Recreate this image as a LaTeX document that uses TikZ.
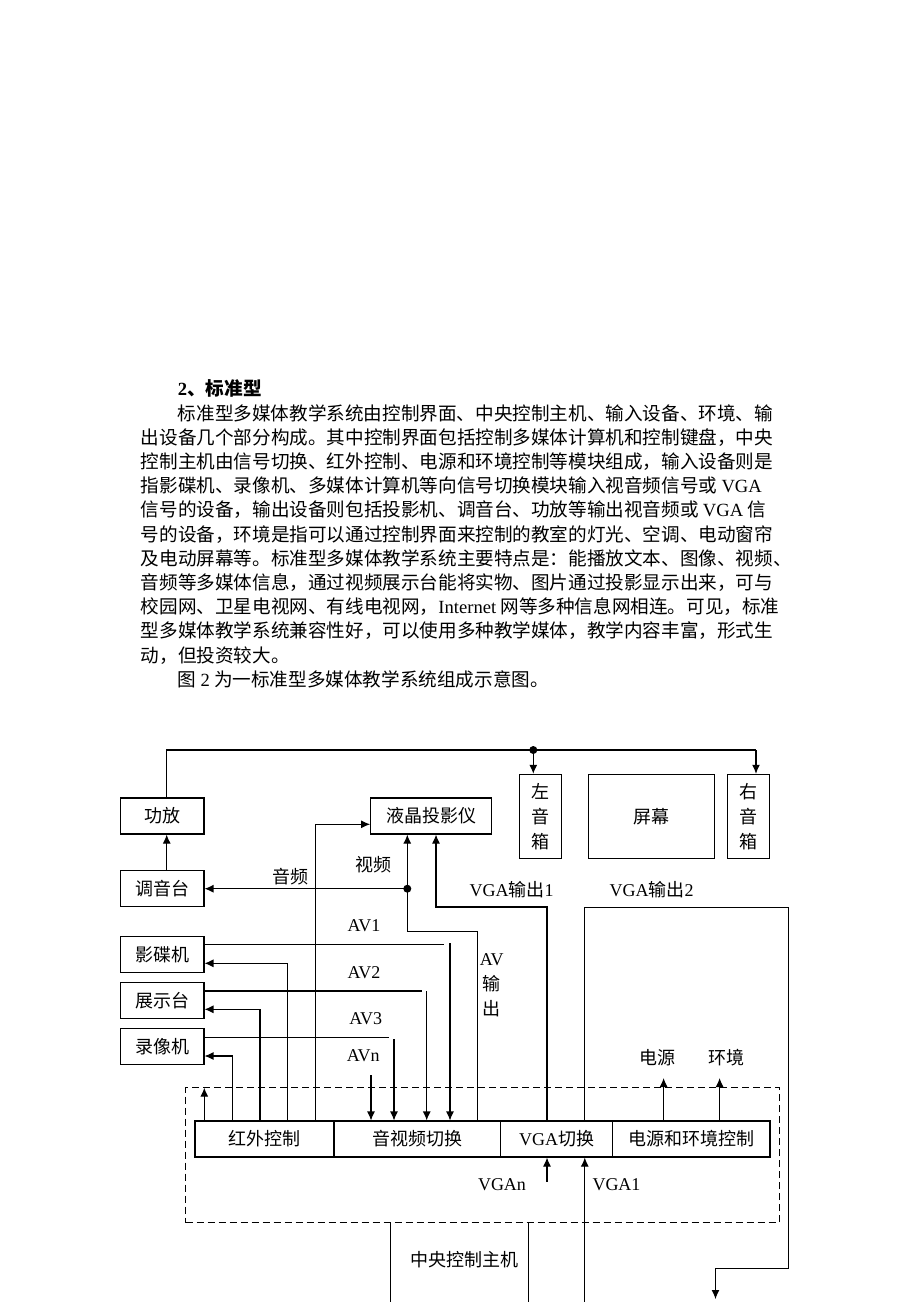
\documentclass[tikz,border=0pt]{standalone}
\usepackage{fontspec}
\setmainfont{Liberation Serif}
\newfontfamily\cjk{Noto Sans CJK SC}
\usetikzlibrary{arrows.meta,positioning,calc}
\newcommand\lat[1]{{\rmfamily #1}}

\begin{document}
\begin{tikzpicture}[x=1pt,y=-1pt,
  every node/.style={font=\cjk\fontsize{18}{25}\selectfont,inner sep=0pt,align=center},
  para/.style={anchor=base west,font=\cjk\fontsize{18.6}{24}\selectfont},
  box/.style={draw,line width=1.1pt,minimum height=36pt},
  device/.style={box,minimum width=83.3pt},
  host/.style={draw,dash pattern=on 7pt off 4pt,line width=1.1pt},
  wire/.style={line width=1.1pt},
  sig/.style={wire,-{Latex[length=9pt,width=8pt]}}]

    \fill[white] (0,0) rectangle (920,1302);
    \useasboundingbox (0,0) rectangle (920,1302);

    % text above the figure
    \node[para,font=\cjk\bfseries\fontsize{18.6}{24}\selectfont] (title) at (177.7,395) {\lat{2}、标准型};
    \node[para] (l1) at (177.7,420) {标准型多媒体教学系统由控制界面、中央控制主机、输入设备、环境、输};
    \node[para] (l2) at (140.6,444.2) {出设备几个部分构成。其中控制界面包括控制多媒体计算机和控制键盘，中央};
    \node[para] (l3) at (140.6,468.4) {控制主机由信号切换、红外控制、电源和环境控制等模块组成，输入设备则是};
    \node[para] (l4) at (140.6,492.6) {指影碟机、录像机、多媒体计算机等向信号切换模块输入视音频信号或 \lat{VGA}};
    \node[para] (l5) at (140.6,516.8) {信号的设备，输出设备则包括投影机、调音台、功放等输出视音频或 \lat{VGA} 信};
    \node[para] (l6) at (140.6,541) {号的设备，环境是指可以通过控制界面来控制的教室的灯光、空调、电动窗帘};
    \node[para] (l7) at (140.6,565.2) {及电动屏幕等。标准型多媒体教学系统主要特点是：能播放文本、图像、视频、};
    \node[para] (l8) at (140.6,589.4) {音频等多媒体信息，通过视频展示台能将实物、图片通过投影显示出来，可与};
    \node[para] (l9) at (140.6,613.6) {校园网、卫星电视网、有线电视网，\lat{Internet} 网等多种信息网相连。可见，标准};
    \node[para] (l10) at (140.6,637.8) {型多媒体教学系统兼容性好，可以使用多种教学媒体，教学内容丰富，形式生};
    \node[para] (l11) at (140.6,662) {动，但投资较大。};
    \node[para] (l12) at (177.7,686.2) {图 \lat{2} 为一标准型多媒体教学系统组成示意图。};

    % central host
    \node[host,minimum width=593.6pt,minimum height=134.8pt] (host) at (482.5,1155.1) {};
    \node[box,minimum width=139pt] (hongwai) at (264.5,1139) {红外控制};
    \node[box,minimum width=166.7pt] (yinshipin) at (417.35,1139) {音视频切换};
    \node[box,minimum width=111.9pt] (vgasw) at (556.65,1139) {\lat{VGA}切换};
    \node[box,minimum width=157.4pt] (dianyuan) at (691.3,1139) {电源和环境控制};
    \node (zhongyang) at (464,1260) {中央控制主机};

    % devices
    \node[device] (gongfang) at (162.3,816) {功放};
    \node[device] (tiaoyin) at (162.3,888.7) {调音台};
    \node[device] (yingdie) at (162.3,954.7) {影碟机};
    \node[device] (zhanshi) at (162.3,1000.7) {展示台};
    \node[device] (luxiang) at (162.3,1046.5) {录像机};
    \node[box,minimum width=121pt] (touying) at (431.2,816) {液晶投影仪};
    \node[box,minimum width=42pt,minimum height=84pt] (zuoyx) at (540.3,816.3) {左\\音\\箱};
    \node[box,minimum width=125.6pt,minimum height=84pt] (pingmu) at (651.5,816.3) {屏幕};
    \node[box,minimum width=41.6pt,minimum height=84pt] (youyx) at (748.5,816.3) {右\\音\\箱};

    % labels
    \node (yinpin) at (290,876.7) {音频};
    \node (shipin) at (373.3,865) {视频};
    \node (av1) at (364,926) {\lat{AV1}};
    \node (av2) at (364,972.3) {\lat{AV2}};
    \node (av3) at (365.7,1018.3) {\lat{AV3}};
    \node (avn) at (363.3,1056) {\lat{AVn}};
    \node (avout) at (491.7,985) {\lat{AV}\\输\\出};
    \node (vgaout1) at (511.7,889.3) {\lat{VGA}输出\lat{1}};
    \node (vgaout2) at (651.7,889.3) {\lat{VGA}输出\lat{2}};
    \node (vgan) at (502,1185) {\lat{VGAn}};
    \node (vga1) at (616.5,1185) {\lat{VGA1}};
    \node (dy) at (657.6,1058) {电源};
    \node (hj) at (726,1058) {环境};

    % bends and free ends
    \coordinate (busL) at (166.7,750);
    \coordinate (busM) at (533.3,750);
    \coordinate (busR) at (756,750);
    \coordinate (avTurn) at (477.7,931.3);
    \coordinate (avDot) at (407.3,888.7);
    \coordinate (vgaTurn1) at (547,907);
    \coordinate (vgaProj) at (436,907);
    \coordinate (vgaTurn2) at (584.8,907.5);
    \coordinate (vgaRight) at (788.3,907.5);
    \coordinate (vgaLow) at (788.3,1268.3);
    \coordinate (vgaEnd) at (715.5,1299);
    \coordinate (vga1In) at (584.8,1302);
    \coordinate (vganIn) at (547,1181.7);
    \coordinate (ir1) at (204.3,1087.7);
    \coordinate (ir2) at (232.3,1056);
    \coordinate (ir3) at (260,1009.3);
    \coordinate (ir4) at (287.7,963.3);
    \coordinate (ir5) at (315.7,824.3);
    \coordinate (av1End) at (444.3,944.3);
    \coordinate (av1In) at (450,943.3);
    \coordinate (av2End) at (421.7,991);
    \coordinate (av2In) at (426.7,991);
    \coordinate (av3End) at (389.3,1037.3);
    \coordinate (av3In) at (394,1039.3);
    \coordinate (avnIn) at (371,1075);
    \coordinate (dyUp) at (663.6,1078);
    \coordinate (hjUp) at (719.6,1078);
    \coordinate (hostL) at (390.8,1302);
    \coordinate (hostR) at (528.8,1302);

    % audio bus to speakers
    \draw[wire] (busL |- gongfang.north) -- (busL) -- (busR);
    \draw[sig] (busM) -- (busM |- zuoyx.north);
    \draw[sig] (busR) -- (busR |- youyx.north);
    \fill (busM) circle (4pt);
    \draw[sig] (busL |- tiaoyin.north) -- (busL |- gongfang.south);

    % AV and VGA outputs
    \draw[sig] (avTurn |- yinshipin.north) -- (avTurn) -| (avDot |- touying.south);
    \fill (avDot) circle (4pt);
    \draw[sig] (avDot) -- (tiaoyin.east);
    \draw[sig] (vgaTurn1 |- vgasw.north) -- (vgaTurn1) -| (vgaProj |- touying.south);
    \draw[sig] (vgaTurn2 |- vgasw.north) -- (vgaTurn2) -- (vgaRight) -- (vgaLow) -| (vgaEnd);
    \draw[sig] (vga1In) -- (vga1In |- vgasw.south);
    \draw[sig] (vganIn) -- (vganIn |- vgasw.south);

    % infrared control
    \draw[sig] (ir1 |- hongwai.north) -- (ir1);
    \draw[sig] (ir2 |- hongwai.north) -- (ir2) -- (ir2 -| luxiang.east);
    \draw[sig] (ir3 |- hongwai.north) -- (ir3) -- (ir3 -| zhanshi.east);
    \draw[sig] (ir4 |- hongwai.north) -- (ir4) -- (ir4 -| yingdie.east);
    \draw[sig] (ir5 |- hongwai.north) -- (ir5) -- (ir5 -| touying.west);

    % AV inputs
    \draw[wire] (yingdie.east |- av1End) -- (av1End);
    \draw[sig] (av1In) -- (av1In |- yinshipin.north);
    \draw[wire] (zhanshi.east |- av2End) -- (av2End);
    \draw[sig] (av2In) -- (av2In |- yinshipin.north);
    \draw[wire] (luxiang.east |- av3End) -- (av3End);
    \draw[sig] (av3In) -- (av3In |- yinshipin.north);
    \draw[sig] (avnIn) -- (avnIn |- yinshipin.north);

    % power and environment
    \draw[sig] (dyUp |- dianyuan.north) -- (dyUp);
    \draw[sig] (hjUp |- dianyuan.north) -- (hjUp);
    \draw[wire] (hostL |- host.south) -- (hostL);
    \draw[wire] (hostR |- host.south) -- (hostR);
\end{tikzpicture}
\end{document}
